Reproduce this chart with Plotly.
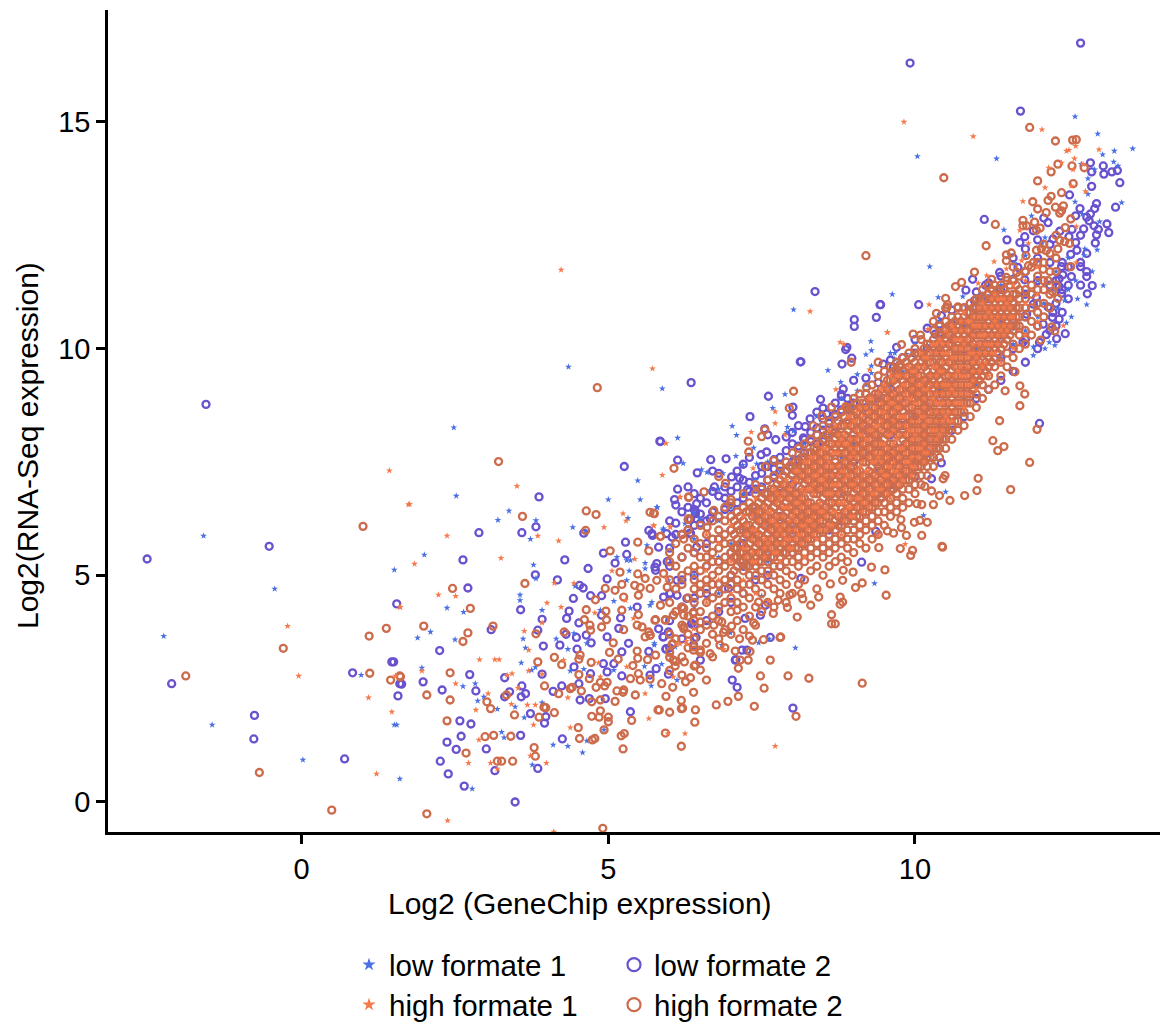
import plotly.graph_objects as go

low2_pts = [(-2.52,5.36),(-0.53,5.64),(1.55,4.37),(1.47,3.09),(1.50,3.09),(0.83,2.85),(-2.12,2.61),(1.60,2.61),(1.57,2.34),(-0.77,1.91),(-0.78,1.39),(0.70,0.95),(9.92,16.30),(12.70,16.74),(-1.56,8.77),
(3.87,6.73),(2.89,5.94),(3.59,5.94),(3.82,6.07),(2.63,5.34),(4.29,5.34),(4.67,5.15),(3.81,5.01),(4.17,4.90),(2.71,4.72),(4.98,4.92),(4.53,4.78),(4.59,4.72),(4.43,4.49),(4.89,4.55),(4.71,4.55),(3.57,4.24),(4.36,4.21),(4.32,4.05),(3.92,4.03),(4.52,3.95),(3.09,3.80),(3.85,3.79),(2.25,3.34),(3.94,3.44),(4.21,3.46),(4.31,3.70),(4.48,3.63),(4.49,3.37),(4.64,3.68),(4.72,3.51),(4.71,2.83),(4.98,2.87),(2.74,2.81),(3.92,2.82),(3.31,2.74),(1.98,2.65),(1.63,2.60),(4.52,2.61),(4.24,2.56),(3.59,2.56),(2.29,2.47),(2.84,2.45),(3.65,2.39),(3.31,2.32),(3.58,2.32),(3.39,2.43),(4.10,2.44),(4.54,2.25),(4.69,2.28),(4.95,2.28),(5.36,1.99),(3.73,1.95),(3.98,1.88),(3.96,1.74),(2.58,1.79),(2.76,1.72),(2.60,1.45),(3.57,1.47),(2.37,1.32),(2.52,1.16),(3.01,1.17),(4.25,1.39),(2.26,0.90),(2.39,0.62),(3.15,0.69),(3.85,0.74),(2.65,0.35),(3.48,0.0),
(6.13,6.90),(6.08,6.67),(5.28,5.73),(4.92,5.49),(5.30,5.46),(5.11,5.27),(5.66,5.99),(5.72,5.88),(4.60,5.93),(5.82,5.62),(5.77,5.11),(5.96,5.30),(6.12,4.89),(5.47,4.30),(4.89,4.12),(5.20,4.06),(4.98,3.64),(5.17,3.83),(5.33,3.50),(5.22,3.31),(5.66,3.32),(5.90,3.64),(5.98,3.75),(5.94,3.37),(5.78,2.94),(5.68,2.80),(5.98,2.82),(5.22,2.78),(6.36,3.94),(6.39,3.46),(6.42,6.41),(6.34,6.23),(6.34,5.92),(6.44,5.62),(6.12,4.56),(6.28,4.49),(5.79,5.26),(5.09,3.05),(4.92,3.05),(4.44,2.98),
(6.35,9.25),(5.85,7.95),(5.26,7.40),(8.37,11.26),(8.14,9.71),(8.01,2.07),(7.02,2.69),(7.10,2.53),(7.26,3.35),(6.50,3.13),(7.64,3.63),(7.07,3.13),(12.03,8.35),
(9.43,10.97),(10.06,10.97),(9.37,10.69),(9.01,10.64),(9.01,10.49),(8.89,10.03),(8.87,9.98),(8.13,9.71),(8.81,9.66),(8.97,9.79),(7.61,8.95),(8.83,9.11),(8.80,8.99),(8.46,8.88),(8.50,8.69),(8.01,8.71),(8.0,8.53),(7.31,8.50),(8.21,8.28),(8.29,8.45),(8.56,8.56),(5.84,7.96),(7.55,8.23),(7.73,7.99),(8.18,8.03),(6.13,7.54),(6.67,7.55),(6.92,7.57),(6.45,7.26),(7.49,7.66),(7.58,7.72),(7.01,7.17),(7.14,7.14),(6.73,6.95),(7.27,6.89),(6.44,6.58),(6.33,5.93),(6.04,5.84),(6.66,6.25),(9.36,5.97),(9.13,5.29),(8.14,4.93),(10.43,7.48),(10.27,7.13),(10.0,7.17),(9.54,9.15),(10.33,10.32),(10.43,10.73),(10.4,10.54),(9.7,10.03),(9.48,9.66),(9.65,9.59),(6.96,4.71),(7.56,4.34),(7.48,4.12),(7.23,4.05),(7.18,3.35),(7.08,3.14),(6.43,3.63),(5.94,3.38),(5.89,3.64),(5.82,3.82),(6.36,3.93),(5.9,4.52),(6.01,4.6),(5.76,5.18),(5.95,5.92),(5.71,5.92),(6.42,6.36),
(12.86,14.1),(13.07,14.03),(13.08,13.85),(12.88,13.9),(13.21,13.9),(13.3,13.93),(13.34,13.66),(12.88,13.58),(12.52,13.39),(12.96,13.2),(12.93,13.09),(13.27,13.12),(12.69,13.09),(12.86,12.97),(12.62,12.93),(12.84,12.82),(13.13,12.75),(12.92,12.71),(12.99,12.63),(12.75,12.64),(12.56,12.63),(13.16,12.56),(12.96,12.51),(12.94,12.33),(12.1,12.88),(12.17,12.78),(11.13,12.85),(11.72,15.24),(11.93,12.6),(11.5,12.4),(11.71,12.34),(11.79,12.47),(12.36,12.59),(12.25,12.42),(12.51,12.47),(12.62,12.34),(12.64,12.17),(12.54,12.08),(12.39,11.81),(12.7,11.81),(12.55,11.59),(12.8,11.59),(12.41,11.63),(12.35,11.54),(12.89,11.39),(12.81,11.21),(12.35,11.37),(12.39,11.22),(12.17,10.92),(12.25,10.8),(12.24,10.69),(12.35,10.65),(12.09,10.54),(12.14,10.31),(12.31,10.22),(12.45,10.33),(12.03,10.14),(9.44,10.97),(10.97,11.06),(10.83,11.29),(10.94,11.53),(11.15,11.4),(11.38,11.68),(11.79,11.52),(11.68,11.79),(11.82,10.76),(11.76,10.14),(11.93,10.98),(11.98,11.13)]

low2_cols = {
6.0:[3.4,4.0,4.6,5.2,5.6,6.2],6.2:[3.6,4.3,4.9,5.4,5.9,6.4],6.4:[3.9,4.5,5.0,5.5,6.1,6.45,6.8],6.6:[4.0,4.6,5.2,5.7,6.2,6.6],
6.8:[4.2,4.8,5.3,5.8,6.3,6.75,7.25],7.0:[4.4,5.0,5.5,6.0,6.5,6.85],7.2:[4.6,5.2,5.7,6.2,6.7,7.1,7.45],7.4:[4.9,5.4,5.9,6.4,6.9,7.2],
7.6:[5.0,5.6,6.1,6.6,7.1,7.4,8.1],7.8:[5.2,5.8,6.3,6.8,7.3,7.6],8.0:[5.5,6.0,6.5,7.0,7.5,7.9,8.15],8.2:[5.7,6.2,6.7,7.2,7.7,8.0],
8.4:[5.9,6.4,6.9,7.4,7.9,8.25,8.6],8.6:[6.0,6.6,7.1,7.6,8.1,8.35],8.8:[6.2,6.8,7.3,7.8,8.3,8.65,8.95],9.0:[6.4,7.0,7.5,8.0,8.5,8.8,9.3],
9.2:[6.6,7.2,7.7,8.2,8.7,9.0,9.35],9.4:[6.8,7.4,7.9,8.4,8.9,9.25],9.6:[7.0,7.6,8.1,8.6,9.1,9.45,9.75],9.8:[7.2,7.8,8.3,8.8,9.3,9.8],
10.0:[7.5,8.0,8.5,9.0,9.5,9.9,10.2],10.2:[7.7,8.2,8.7,9.2,9.7,10.0,10.45],10.4:[8.0,8.5,9.0,9.5,10.0,10.35],10.6:[8.2,8.7,9.2,9.7,10.2,10.55,10.85],
10.8:[8.5,9.0,9.5,10.0,10.5,10.9],11.0:[8.9,9.4,9.9,10.4,10.9,11.25],11.2:[9.1,9.6,10.1,10.6,11.1,11.45],11.4:[9.3,9.8,10.3,10.8,11.3,11.6],
11.6:[9.5,10.0,10.5,11.0,11.5,12.0],11.8:[9.7,10.2,10.7,11.2,11.7,12.2],12.0:[10.0,10.5,11.0,11.5,12.0,12.4],12.2:[10.4,10.9,11.4,11.9,12.3],
6.1:[5.9,6.15,6.55],6.3:[6.0,6.5,6.95],6.5:[6.15,6.7,6.35],6.7:[6.4,6.85,7.3],6.9:[6.45,6.95,6.7],7.1:[6.6,7.3,6.95],7.3:[6.85,7.05,7.6],7.5:[6.95,7.4,7.25],7.7:[7.15,7.55,7.35],7.9:[7.3,7.75,8.05],8.1:[7.55,8.3,7.85],8.3:[7.7,8.15,7.95],8.5:[7.95,8.45,8.2],8.7:[8.15,8.55,8.8],8.9:[8.35,8.9,8.65],
12.3:[10.5,11.0,11.5],12.4:[10.8,11.3,11.9],12.5:[11.1,11.4,11.8],12.7:[11.4,11.9,12.5],12.8:[11.7,12.1,12.9]}

low1_pts = [(-1.60,5.87),(1.51,5.12),(-0.44,4.70),(-2.25,3.66),(0.97,2.80),(-1.46,1.70),(1.51,1.70),(1.55,1.70),(0.02,0.93),(1.60,0.51),(4.35,9.60),(2.48,8.26),(5.88,9.12),
(2.52,6.75),(3.38,6.42),(3.20,6.22),(3.82,6.21),(3.73,5.80),(4.42,6.06),(5.0,6.67),(5.52,6.67),(5.48,7.09),(5.79,6.50),(5.32,6.26),(4.63,5.97),(2.0,5.45),(3.78,5.23),(5.30,5.33),(5.36,5.33),(5.60,5.27),(5.60,5.15),(5.34,5.10),(3.82,4.93),(4.46,4.76),(3.56,4.57),(3.56,4.45),(2.37,4.28),(2.64,4.19),(3.92,4.23),(5.09,4.43),(5.36,4.27),(5.68,4.34),(2.10,3.75),(1.89,3.62),(2.50,3.58),(3.61,3.60),(3.65,3.40),(4.15,3.60),(4.34,3.37),(3.58,3.07),(3.75,2.91),(3.81,2.97),(1.96,2.96),(4.38,2.89),(4.60,2.93),(5.09,2.91),(5.59,2.99),(5.87,3.04),(2.63,2.55),(2.83,2.61),(2.87,2.23),(2.97,2.32),(3.19,2.05),(3.48,2.10),(3.63,1.86),(3.92,2.19),(3.26,1.54),(3.30,1.42),(4.10,1.26),(4.34,1.23),(4.65,1.35),(4.93,1.59),(4.58,1.09),(3.76,0.82),(2.78,0.29),(5.70,2.56),(6.12,2.69),(5.75,3.5),(5.3,4.89),(4.87,4.23),(4.44,3.72),(4.65,3.5),(5.14,5.40),(5.63,5.66),(5.90,6.03),
(8.02,10.86),(9.28,10.16),(9.29,9.96),(9.2,9.87),(8.58,9.52),(9.06,9.43),(9.29,9.46),(9.29,9.62),(8.79,9.26),(9.06,9.07),(7.88,8.99),(7.68,8.69),(7.02,8.29),(7.09,8.09),(7.92,8.27),(8.02,8.18),(7.91,8.16),(6.13,8.03),(7.37,7.81),(7.08,7.63),(7.19,7.43),(7.42,7.46),(6.22,7.47),(6.52,7.33),(6.61,7.27),(6.87,7.25),(6.65,6.87),(5.8,6.5),(6.49,6.25),(6.39,6.39),(5.89,6.0),(6.04,5.66),(10.14,6.32),(9.86,7.24),(10.5,6.84),(9.34,4.82),(8.05,3.40),(7.62,3.6),(7.45,3.51),(6.99,3.73),(6.85,3.46),(7.5,4.54),(5.75,3.46),(6.09,3.42),(5.71,4.41),(5.98,4.89),(6.25,6.14),
(12.61,15.12),(12.98,14.74),(13.55,14.41),(13.25,14.36),(13.06,14.28),(10.04,14.24),(11.33,14.19),(13.24,14.12),(13.31,14.03),(12.71,14.07),(12.93,13.95),(12.82,13.41),(12.82,13.75),(12.61,13.24),(13.37,13.22),(11.9,12.93),(12.73,12.97),(11.45,12.62),(13.01,12.8),(12.12,12.45),(12.07,12.32),(12.77,12.2),(12.97,12.18),(12.76,12.06),(11.8,12.05),(10.24,11.81),(11.62,11.88),(12.89,11.7),(12.62,11.5),(13.07,11.39),(9.63,11.2),(10.38,11.13),(10.78,11.15),(11.1,11.2),(12.44,11.06),(12.8,10.97),(11.06,11.12),(10.84,10.91),(12.33,10.89),(12.55,10.7),(12.47,10.57),(12.12,10.0),(12.28,10.07),(12.19,10.14),(11.93,10.04),(11.93,9.85),(9.67,9.9),(9.67,9.77),(9.86,9.88),(12.5,12.0),(12.3,11.7),(12.5,11.3),(12.65,11.1),(12.1,11.0),(12.25,11.3)]

low1_cols = {
6.4:[4.3,5.0,5.8],6.8:[4.6,5.4,6.2,6.9],7.0:[4.9,5.7,6.5],7.2:[5.2,6.0,6.8],7.4:[5.5,6.3,7.1],7.6:[5.3,6.1,6.9,7.5],7.8:[5.7,6.5,7.3],8.0:[6.0,6.8,7.6],8.2:[6.3,7.1,7.9],
8.4:[6.1,6.9,7.7,8.5],8.6:[6.5,7.3,8.1],8.8:[6.8,7.6,8.4,8.9],9.0:[7.1,7.9,8.7],9.2:[6.9,7.7,8.5,9.2],9.4:[7.3,8.1,8.9],9.6:[7.6,8.4,9.2,9.9],9.8:[7.9,8.7,9.5],
10.0:[7.7,8.5,9.3,10.1],10.2:[8.0,8.8,9.6],10.4:[8.3,9.1,9.9,10.6],10.6:[8.6,9.4,10.2],10.8:[8.9,9.7,10.5],11.0:[9.2,10.0,10.8],11.2:[9.5,10.3,11.1],11.4:[9.8,10.6,11.4],11.6:[10.1,10.9,11.6],11.8:[10.4,11.2],12.0:[10.7,11.5]}

high2_pts = [(1.0,6.08),(1.38,3.83),(1.10,3.66),(-0.30,3.39),(-1.89,2.78),(1.11,2.84),(1.60,2.78),(1.45,2.69),(-0.69,0.65),(0.49,-0.18),(4.82,9.14),(3.21,7.51),(10.47,13.77),(9.20,12.05),(9.14,2.62),
(3.60,6.30),(4.64,6.42),(4.80,6.34),(5.68,6.39),(5.75,6.36),(4.63,5.99),(6.30,6.23),(6.31,6.73),(5.48,5.73),(5.03,5.54),(5.66,5.54),(5.85,5.86),(5.19,5.07),(5.48,5.03),(5.60,4.93),(3.64,4.82),(2.46,4.71),(4.95,4.71),(5.11,4.67),(5.22,4.80),(5.43,4.78),(5.52,4.73),(5.68,4.71),(5.79,4.89),(5.90,5.04),(4.79,4.46),(5.49,4.56),(5.96,4.74),(2.75,4.27),(4.64,4.24),(4.96,4.21),(5.22,4.23),(5.25,4.52),(5.85,4.34),(6.23,4.27),(6.39,4.16),(4.61,4.02),(4.97,4.02),(5.49,4.13),(5.77,4.02),(5.93,4.02),(6.06,4.12),(1.99,3.88),(3.12,3.88),(4.70,3.90),(4.89,3.86),(5.47,3.90),(5.25,3.80),(5.55,3.86),(5.66,3.75),(5.60,3.64),(5.68,3.68),(6.23,3.86),(2.71,3.73),(3.82,3.71),(4.28,3.75),(4.71,3.79),(2.63,3.54),(5.08,3.51),(6.05,3.49),(6.39,3.35),(5.02,3.30),(5.47,3.33),(4.12,3.19),(4.54,3.24),(4.52,3.15),(5.16,3.15),(5.64,3.14),(5.77,3.24),(6.0,3.19),(3.85,3.09),(4.24,3.03),(4.72,3.08),(5.48,3.17),(5.40,3.01),(6.06,3.13),(6.09,3.0),(6.24,3.09),(6.42,3.02),(2.42,2.85),(4.52,2.81),(4.69,2.72),(5.36,2.72),(5.49,2.83),(5.52,2.69),(5.68,2.71),(6.26,2.65),(6.34,2.74),(3.96,2.56),(4.38,2.50),(4.41,2.53),(4.87,2.64),(4.98,2.64),(4.80,2.53),(4.94,2.56),(5.87,2.61),(6.05,2.53),(6.39,2.42),(1.61,2.76),(2.04,2.36),(2.42,2.25),(3.34,2.36),(4.19,2.39),(4.56,2.45),(5.14,2.45),(5.25,2.47),(5.24,2.42),(5.44,2.36),(3.02,2.21),(3.08,2.06),(4.73,2.21),(4.87,2.25),(5.11,2.22),(6.19,2.24),(6.19,2.06),(3.95,2.09),(3.98,2.08),(3.47,1.92),(3.87,1.87),(4.12,1.97),(4.87,2.01),(4.73,1.89),(4.85,1.87),(5.0,1.87),(5.0,1.77),(5.38,1.80),(5.83,2.03),(6.0,1.98),(6.41,1.76),(2.37,1.79),(4.51,1.64),(4.93,1.59),(2.99,1.44),(3.13,1.47),(3.41,1.45),(5.26,1.51),(5.21,1.46),(4.53,1.40),(4.78,1.40),(4.74,1.37),(3.79,1.20),(6.19,1.23),(5.24,1.17),(2.68,1.08),(3.81,1.01),(3.19,0.90),(3.26,0.90),(3.44,0.90),(2.04,-0.26),(4.91,-0.58),
(8.06,1.89),(7.48,2.78),(7.93,2.78),(8.27,2.73),(7.15,3.13),(6.95,2.22),(6.76,2.14),(6.5,2.91),(6.21,2.07),(5.94,2.33),(5.81,2.03),(6.42,2.03),(7.12,2.33),(7.38,2.11),(7.54,2.51),(7.12,2.95),(7.28,3.13),(7.64,3.13),(7.8,3.63),(7.35,3.57),(6.5,3.35),(6.82,3.46),(6.6,2.69),(5.93,1.52),
(10.52,10.91),(10.35,10.78),(10.30,10.6),(9.97,10.32),(10.09,10.3),(9.78,10.09),(9.40,9.7),(8.96,9.7),(9.76,9.66),(9.70,9.48),(8.02,9.06),(9.21,9.15),(7.95,8.69),(8.64,8.71),(8.48,8.52),(8.87,8.72),(7.55,8.21),(8.34,8.30),(7.50,8.06),(7.28,7.96),(7.29,7.72),(6.07,7.36),(7.56,7.40),(7.70,7.53),(6.80,7.18),(6.91,7.03),(6.56,6.84),(6.31,6.72),(5.74,6.37),(6.31,6.25),(6.72,6.43),(7.0,6.67),(6.61,6.06),(5.85,5.86),(6.23,5.80),(10.45,5.62),(9.93,5.44),(9.96,5.55),(10.11,5.88),(9.99,6.17),(10.2,6.17),(9.77,6.23),(9.78,6.05),(9.65,5.93),(9.55,5.98),(9.86,5.88),(10.3,6.56),(10.03,6.58),(10.11,6.56),(10.40,6.76),(10.27,6.86),(10.16,6.96),(10.46,7.13),(10.49,7.2),(9.51,5.12),(9.29,5.18),(9.41,5.61),(9.53,4.56),(9.14,4.83),(9.03,4.73),(8.82,4.89),(8.83,5.11),(8.99,5.07),(8.78,4.52),(8.82,4.41),(8.78,4.36),(8.64,4.13),(8.64,3.93),(8.70,3.93),(8.08,4.08),(8.3,4.34),(7.92,4.29),(7.69,4.16),(7.81,3.64),(7.53,3.58),(7.31,3.32),(7.07,3.33),(7.30,3.66),(7.14,3.6),(6.88,3.74),(7.37,3.95),(7.01,3.88),(6.72,3.9),(6.5,3.97),(6.23,3.82),(6.04,3.48),(6.39,3.42),(6.66,3.27),(8.62,4.81),(8.43,4.52),(8.15,4.6),(8.17,4.48),(7.96,4.57),(7.77,4.45),(7.45,4.41),(7.1,4.23),(6.85,3.97),(6.39,4.19),(6.23,4.12),(5.93,4.01),(6.06,4.12),(5.76,4.01),(5.68,3.68),
(11.87,14.88),(12.29,14.58),(12.57,14.6),(12.63,14.61),(12.33,14.07),(12.56,14.03),(12.76,13.99),(12.22,13.9),(12.0,13.7),(12.58,13.64),(12.39,13.44),(12.22,13.36),(12.17,13.27),(11.92,13.24),(12.0,13.08),(12.29,13.12),(12.42,13.15),(12.39,13.04),(12.36,12.99),(12.14,13.0),(11.76,12.83),(11.95,12.79),(12.54,12.86),(12.45,12.67),(11.31,12.74),(11.76,12.71),(11.82,12.71),(12.04,12.66),(11.98,12.61),(11.16,12.27),(12.36,12.39),(12.44,12.36),(12.52,12.32),(11.57,12.11),(11.49,12.07),(11.49,11.94),(11.98,12.17),(12.06,12.2),(12.14,12.16),(12.33,12.2),(11.81,12.05),(11.93,11.9),(11.85,11.83),(12.09,11.75),(12.54,11.81),(10.97,11.69),(10.76,11.46),(10.66,11.37),(11.25,11.53),(11.49,11.57),(11.66,11.68),(12.17,11.5),(12.24,11.26),(12.33,11.11),(10.5,11.11),(10.53,10.97),(10.5,10.89),(10.7,10.92),(12.23,10.48),(12.28,10.39),(12.05,10.19),
(11.87,7.49),(11.56,6.89),(11.45,7.84),(11.35,7.75),(11.27,7.97),(11.38,8.41),(11.71,8.74),(11.47,9.07),(11.71,9.18),(11.79,9.0),(11.63,9.49),(11.03,7.14),(11.01,6.87),(10.81,6.76),(10.57,6.65),(10.44,5.64),(10.08,6.21),(9.76,5.59),(11.99,8.22)]

high2_cols = {
6.0:[2.9,3.3,3.7,4.4,4.9,5.3,5.5],6.1:[3.1,3.6,4.2,4.7,5.2,5.7],6.2:[2.8,3.2,3.9,4.3,4.8,5.0,5.4,5.9],6.3:[3.4,3.7,4.1,4.5,5.1,5.6,6.0],
6.4:[3.0,3.6,4.0,4.4,4.7,4.9,5.2,5.5,5.8],6.5:[3.3,3.8,4.2,4.6,4.8,5.1,5.4,5.7,6.1],6.6:[3.5,3.9,4.4,4.7,4.9,5.2,5.4,5.6,5.9],6.7:[3.2,3.7,4.1,4.5,4.8,5.0,5.3,5.5,5.8,6.2],
6.8:[3.6,4.0,4.3,4.6,4.8,5.1,5.3,5.6,5.8,6.0,6.3],6.9:[3.4,3.8,4.4,4.7,4.9,5.2,5.4,5.7,5.9,6.2,6.5],7.0:[3.7,4.2,4.5,4.8,5.0,5.3,5.5,5.7,6.0,6.3,6.6],7.1:[4.0,4.4,4.7,4.9,5.2,5.4,5.6,5.8,6.1,6.4],
7.2:[3.8,4.3,4.6,4.8,5.1,5.3,5.5,5.8,6.0,6.2,6.5,6.8],7.3:[4.1,4.5,4.8,5.0,5.2,5.4,5.7,5.9,6.1,6.4,6.6],7.4:[3.9,4.3,4.7,5.0,5.2,5.4,5.6,5.8,6.1,6.3,6.5,6.8,7.0],7.5:[4.2,4.6,4.9,5.1,5.3,5.5,5.7,6.0,6.2,6.4,6.7,6.9],
7.6:[4.4,4.8,5.1,5.3,5.5,5.7,5.9,6.1,6.3,6.6,6.8,7.1],7.7:[4.3,4.7,5.0,5.2,5.4,5.6,5.8,6.0,6.2,6.5,6.7,6.9,7.2],7.8:[4.6,4.9,5.2,5.4,5.6,5.8,6.0,6.2,6.4,6.7,6.9,7.1,7.4],7.9:[4.4,4.8,5.1,5.3,5.5,5.7,5.9,6.1,6.4,6.6,6.8,7.0,7.3,7.5],
8.0:[4.6,5.0,5.3,5.5,5.7,5.9,6.1,6.3,6.5,6.7,6.9,7.2,7.4,7.7],8.1:[4.8,5.2,5.4,5.6,5.8,6.0,6.2,6.4,6.6,6.8,7.1,7.3,7.5,7.8],8.2:[4.9,5.3,5.5,5.7,5.9,6.1,6.3,6.5,6.7,7.0,7.2,7.4,7.6,7.9],8.3:[5.1,5.4,5.6,5.8,6.0,6.2,6.4,6.6,6.9,7.1,7.3,7.5,7.7,8.0],
8.4:[4.7,5.2,5.5,5.7,5.9,6.1,6.3,6.5,6.8,7.0,7.2,7.4,7.6,7.8,8.1],8.5:[5.0,5.4,5.6,5.8,6.0,6.2,6.4,6.7,6.9,7.1,7.3,7.5,7.7,8.0,8.3],8.6:[5.2,5.5,5.7,5.9,6.1,6.3,6.6,6.8,7.0,7.2,7.4,7.6,7.9,8.1,8.4],8.7:[5.3,5.6,5.8,6.0,6.2,6.5,6.7,6.9,7.1,7.3,7.5,7.8,8.0,8.2,8.5],
8.8:[5.4,5.7,5.9,6.1,6.3,6.5,6.8,7.0,7.2,7.4,7.6,7.8,8.0,8.3,8.6],8.9:[5.3,5.6,5.8,6.0,6.2,6.4,6.7,6.9,7.1,7.3,7.5,7.7,7.9,8.2,8.4,8.7],9.0:[5.5,5.8,6.0,6.2,6.4,6.6,6.8,7.0,7.2,7.4,7.7,7.9,8.1,8.3,8.5,8.9],9.1:[5.7,5.9,6.1,6.3,6.5,6.7,6.9,7.1,7.3,7.6,7.8,8.0,8.2,8.4,8.7,9.0],
9.2:[5.6,6.0,6.2,6.4,6.6,6.8,7.0,7.2,7.5,7.7,7.9,8.1,8.3,8.6,8.8,9.0],9.3:[5.8,6.1,6.3,6.5,6.7,6.9,7.1,7.4,7.6,7.8,8.0,8.2,8.5,8.7,8.9,9.2],9.4:[5.9,6.2,6.4,6.6,6.8,7.0,7.3,7.5,7.7,7.9,8.1,8.4,8.6,8.8,9.0,9.4],9.5:[6.1,6.4,6.6,6.8,7.0,7.2,7.4,7.6,7.8,8.0,8.3,8.5,8.7,8.9,9.2,9.5],
9.6:[6.3,6.5,6.7,6.9,7.1,7.3,7.5,7.7,7.9,8.2,8.4,8.6,8.8,9.0,9.3,9.6],9.7:[6.4,6.6,6.8,7.0,7.2,7.4,7.6,7.8,8.1,8.3,8.5,8.7,8.9,9.2,9.4,9.7],9.8:[6.5,6.7,6.9,7.1,7.3,7.5,7.7,8.0,8.2,8.4,8.6,8.8,9.1,9.3,9.5,9.8],9.9:[6.6,6.9,7.1,7.3,7.5,7.7,7.9,8.1,8.3,8.5,8.7,9.0,9.2,9.4,9.6,9.9],
10.0:[6.8,7.0,7.2,7.4,7.6,7.8,8.0,8.2,8.4,8.6,8.9,9.1,9.3,9.5,9.7,10.0],10.1:[7.0,7.2,7.4,7.6,7.8,8.0,8.2,8.4,8.6,8.8,9.0,9.2,9.4,9.7,9.9,10.2],10.2:[7.2,7.4,7.6,7.8,8.0,8.2,8.4,8.6,8.8,9.0,9.3,9.5,9.7,9.9,10.1],10.3:[7.4,7.6,7.8,8.0,8.2,8.4,8.6,8.8,9.1,9.3,9.5,9.7,9.9,10.2,10.4],
10.4:[7.6,7.8,8.0,8.2,8.4,8.6,8.9,9.1,9.3,9.5,9.7,9.9,10.1,10.3,10.5],10.5:[7.8,8.0,8.2,8.4,8.6,8.8,9.0,9.2,9.4,9.6,9.8,10.0,10.2,10.4,10.6],10.6:[8.0,8.3,8.5,8.7,8.9,9.1,9.3,9.5,9.7,9.9,10.1,10.3,10.5,10.7],10.7:[8.2,8.4,8.6,8.8,9.0,9.2,9.4,9.6,9.8,10.0,10.3,10.5,10.7,10.9],
10.8:[8.3,8.6,8.8,9.0,9.2,9.4,9.6,9.8,10.1,10.3,10.5,10.7,10.9],10.9:[8.5,8.8,9.0,9.2,9.4,9.6,9.8,10.0,10.2,10.4,10.6,10.8,11.0],11.0:[8.7,9.0,9.2,9.4,9.6,9.8,10.0,10.3,10.5,10.7,10.9,11.1],11.1:[8.9,9.2,9.4,9.6,9.9,10.1,10.3,10.5,10.7,10.9,11.1,11.3],
11.2:[9.1,9.4,9.6,9.8,10.0,10.2,10.4,10.6,10.8,11.0,11.2,11.4],11.3:[9.2,9.6,9.8,10.0,10.2,10.4,10.6,10.8,11.0,11.2,11.4],11.4:[9.4,9.7,10.0,10.2,10.4,10.6,10.8,11.0,11.2,11.4],11.5:[9.6,9.9,10.2,10.4,10.6,10.8,11.0,11.2,11.5],
11.6:[9.8,10.1,10.4,10.6,10.8,11.0,11.2,11.5,11.8],11.7:[10.0,10.3,10.5,10.7,10.9,11.1,11.3,11.6],11.8:[10.1,10.4,10.7,10.9,11.1,11.3,11.7],11.9:[10.3,10.6,10.9,11.2,11.4,11.8],
12.0:[10.5,10.8,11.0,11.3,11.6,11.9],12.1:[10.7,11.0,11.3,11.5,11.9,12.3],12.2:[10.9,11.2,11.7,12.1],12.3:[11.4,11.7,12.0,12.5]}

high2_fill = {
7.05:[5.1,5.4,5.6,5.9,6.2],7.15:[5.3,5.5,5.7,6.0,6.3],7.25:[5.2,5.4,5.6,5.9,6.1,6.4],7.35:[5.3,5.5,5.8,6.0,6.3,6.5],7.45:[5.3,5.5,5.7,5.9,6.2,6.4,6.6],7.55:[5.4,5.6,5.8,6.1,6.3,6.5,6.8],7.65:[5.4,5.6,5.8,6.0,6.2,6.4,6.7,6.9],7.75:[5.5,5.7,5.9,6.1,6.3,6.6,6.8,7.0],
7.85:[5.5,5.7,5.9,6.1,6.3,6.5,6.8,7.0,7.2],7.95:[5.6,5.8,6.0,6.2,6.5,6.7,6.9,7.1,7.4],8.05:[5.6,5.8,6.0,6.2,6.4,6.6,6.8,7.1,7.3,7.5],8.15:[5.7,5.9,6.1,6.3,6.5,6.7,6.9,7.2,7.4,7.6],8.25:[5.8,6.0,6.2,6.4,6.6,6.9,7.1,7.3,7.5,7.7],8.35:[5.9,6.1,6.3,6.5,6.8,7.0,7.2,7.4,7.6,7.8],
8.45:[6.0,6.2,6.4,6.6,6.9,7.1,7.3,7.5,7.7,7.9],8.55:[6.0,6.3,6.5,6.8,7.0,7.2,7.4,7.6,7.8,8.1],8.65:[6.1,6.4,6.6,6.8,7.0,7.2,7.4,7.7,7.9,8.2],8.75:[6.1,6.3,6.6,6.8,7.0,7.2,7.4,7.7,7.9,8.1,8.4],8.85:[6.2,6.4,6.6,6.9,7.1,7.3,7.5,7.7,7.9,8.1,8.3,8.5],8.95:[6.3,6.5,6.7,7.0,7.2,7.4,7.6,7.8,8.0,8.3,8.5,8.7],
9.05:[6.3,6.5,6.7,6.9,7.1,7.3,7.6,7.8,8.0,8.2,8.4,8.6,8.8],9.15:[6.4,6.6,6.8,7.0,7.2,7.5,7.7,7.9,8.1,8.3,8.5,8.8],9.25:[6.5,6.7,6.9,7.1,7.3,7.6,7.8,8.0,8.2,8.4,8.6,8.9],9.35:[6.6,6.8,7.0,7.2,7.5,7.7,7.9,8.1,8.3,8.5,8.7,9.0],9.45:[6.7,6.9,7.1,7.3,7.5,7.7,7.9,8.2,8.4,8.6,8.8,9.1],9.55:[6.8,7.0,7.2,7.4,7.6,7.8,8.1,8.3,8.5,8.7,8.9,9.1,9.3],
9.65:[6.9,7.1,7.3,7.5,7.7,7.9,8.2,8.4,8.6,8.8,9.0,9.3,9.5],9.75:[7.0,7.2,7.4,7.6,7.8,8.1,8.3,8.5,8.7,8.9,9.1,9.4,9.6],9.85:[7.1,7.3,7.5,7.7,7.9,8.1,8.3,8.5,8.8,9.0,9.2,9.4,9.7],9.95:[7.2,7.4,7.6,7.8,8.0,8.2,8.4,8.7,8.9,9.1,9.3,9.5,9.8],10.05:[7.4,7.6,7.8,8.0,8.2,8.4,8.6,8.8,9.0,9.2,9.4,9.6,9.9],10.15:[7.5,7.7,7.9,8.1,8.3,8.5,8.7,8.9,9.1,9.3,9.6,9.8,10.0],
10.25:[7.6,7.8,8.0,8.2,8.4,8.6,8.8,9.0,9.2,9.4,9.7,9.9,10.1],10.35:[7.8,8.0,8.2,8.4,8.6,8.8,9.0,9.2,9.4,9.6,9.9,10.1],10.45:[8.0,8.2,8.4,8.6,8.8,9.0,9.2,9.5,9.7,9.9,10.1,10.3],10.55:[8.2,8.4,8.6,8.8,9.0,9.2,9.4,9.7,9.9,10.1,10.3,10.5],10.65:[8.4,8.6,8.8,9.0,9.2,9.4,9.6,9.8,10.0,10.2,10.4,10.6],10.75:[8.6,8.8,9.0,9.2,9.4,9.6,9.8,10.0,10.2,10.4,10.6],
10.85:[8.8,9.0,9.2,9.4,9.6,9.8,10.0,10.2,10.4,10.6,10.8],10.95:[9.1,9.3,9.5,9.7,9.9,10.1,10.3,10.5,10.7,10.9],11.05:[9.3,9.5,9.7,9.9,10.1,10.3,10.5,10.7,10.9,11.1],11.15:[9.5,9.7,9.9,10.1,10.3,10.5,10.7,10.9,11.1],11.25:[9.7,9.9,10.1,10.3,10.5,10.7,10.9,11.1,11.3],11.35:[9.9,10.1,10.3,10.5,10.7,10.9,11.1,11.3],
11.45:[10.1,10.3,10.5,10.7,10.9,11.1,11.3],11.55:[10.3,10.5,10.7,10.9,11.1,11.4],11.65:[10.5,10.7,10.9,11.2,11.4]}

high1_pts = [(1.60,4.30),(-0.23,3.88),(-0.05,2.78),(1.53,2.78),(1.09,2.30),(1.47,1.99),(1.22,0.62),(1.74,6.56),(1.43,7.31),(4.23,11.74),(5.72,9.56),(4.10,-0.95),(7.72,1.23),
(3.51,6.97),(1.76,6.57),(2.37,5.87),(3.85,5.87),(4.19,5.76),(4.93,6.06),(5.24,6.36),(5.29,6.20),(3.25,5.38),(1.84,5.25),(5.43,5.36),(5.06,5.10),(2.23,4.57),(2.51,4.54),(4.12,4.83),(4.44,4.82),(4.0,4.39),(4.23,4.30),(4.78,4.17),(3.92,3.95),(3.63,3.77),(1.61,4.30),(3.70,3.35),(2.90,3.14),(3.15,3.14),(3.22,3.14),(4.27,3.13),(1.96,2.89),(3.43,2.83),(3.35,2.80),(3.70,2.89),(3.92,2.82),(4.84,3.07),(5.30,2.98),(2.51,2.61),(3.04,2.39),(3.53,2.51),(4.34,2.30),(5.60,2.39),(3.42,2.16),(3.68,2.14),(3.81,2.14),(2.84,2.03),(5.66,1.84),(3.78,1.70),(4.38,1.64),(2.89,1.37),(5.97,1.51),(6.25,1.51),(3.73,1.02),(2.72,0.86),(3.08,0.86),(3.19,0.73),(3.99,0.86),(2.38,-0.41),(4.11,-0.66),(6.17,6.73),(5.74,6.10),(6.01,6.07),(5.28,4.45),(5.41,4.05),(6.12,3.49),(6.28,3.49),(6.06,2.76),(4.87,2.76),
(8.29,10.82),(10.23,10.97),(9.55,10.36),(10.21,10.43),(8.78,10.14),(8.84,10.1),(9.26,9.54),(8.71,9.1),(7.72,8.61),(7.72,8.35),(7.33,8.16),(7.88,8.1),(5.94,7.91),(5.88,7.21),(7.36,7.36),(6.01,6.06),(5.74,6.09),(6.17,6.72),(9.84,5.69),(9.4,5.88),(7.61,4.43),(6.88,3.37),(6.17,3.49),(6.39,3.82),(6.27,3.55),(5.95,4.91),
(9.82,15.0),(10.95,14.68),(12.07,14.83),(12.47,14.36),(12.51,14.38),(12.62,14.47),(13.0,14.39),(12.6,14.19),(12.74,14.07),(12.39,14.1),(12.18,13.99),(12.58,13.95),(12.12,13.55),(12.78,13.47),(11.76,13.25),(12.55,13.59),(9.55,10.36),(11.29,11.92),(11.85,12.32),(11.71,12.61),(11.74,11.94),(11.17,11.61),(11.03,11.44),(11.49,11.76),(12.63,11.9),(12.42,10.51),(12.63,12.69),(10.6,10.5)]

high1_cols = {
6.6:[4.4,5.1,5.9],6.8:[4.2,4.9,5.7],7.0:[4.6,5.3,6.1],7.2:[4.9,5.6,6.3],7.4:[4.6,5.3,6.0,6.7],7.6:[5.0,5.7,6.4],7.8:[5.3,6.0,6.7,7.2],8.0:[5.6,6.3,7.0],8.2:[5.4,6.1,6.8,7.5],8.4:[5.8,6.5,7.2,7.9],8.6:[6.1,6.8,7.5,8.2],
8.8:[5.9,6.6,7.3,8.0],9.0:[6.3,7.0,7.7,8.4],9.2:[6.6,7.3,8.0,8.7],9.4:[6.9,7.6,8.3,9.0],9.6:[6.7,7.4,8.1,8.8,9.4],9.8:[7.1,7.8,8.5,9.2],10.0:[7.4,8.1,8.8,9.5],10.2:[7.7,8.4,9.1,9.8],10.4:[8.1,8.8,9.5,10.2],
10.6:[8.4,9.1,9.8,10.5],10.8:[8.7,9.4,10.1,10.8],11.0:[9.1,9.8,10.5],11.2:[9.4,10.1,10.8],11.4:[9.7,10.4,11.1],11.6:[10.0,10.7,11.4],11.8:[10.3,11.0,11.5],12.0:[10.6,11.2,11.8],
7.7:[5.5,6.2,6.9],7.9:[5.8,6.5,7.1],8.1:[5.9,6.6,7.3],8.3:[6.2,6.9,7.6],8.5:[6.4,7.1,7.8],8.7:[6.4,7.0,7.7,8.3],8.9:[6.5,7.2,7.9,8.5],9.1:[6.7,7.4,8.1,8.7],9.3:[6.8,7.5,8.2,8.9],9.5:[7.2,7.9,8.6,9.2],9.7:[7.3,8.0,8.7,9.4],9.9:[7.5,8.2,8.9,9.6],10.1:[7.8,8.5,9.2,9.9],10.3:[8.2,8.9,9.6,10.1],10.5:[8.5,9.2,9.9,10.4],10.7:[8.8,9.5,10.2],10.9:[9.2,9.9,10.6],11.1:[9.6,10.3,11.0],11.3:[9.9,10.6,11.2],11.5:[10.4,11.0]}

high1_fill = {
7.25:[5.4,5.6,5.9,6.1],7.35:[5.3,5.5,5.8,6.0,6.3],7.45:[5.5,5.7,5.9,6.2,6.4],7.55:[5.4,5.6,5.8,6.1,6.3,6.5],7.65:[5.6,5.8,6.0,6.2,6.4,6.7],7.75:[5.5,5.7,5.9,6.1,6.3,6.6,6.8],7.85:[5.7,5.9,6.1,6.3,6.5,6.8,7.0],7.95:[5.6,5.8,6.0,6.2,6.5,6.7,6.9],
8.05:[5.8,6.0,6.2,6.4,6.6,6.8,7.1,7.3],8.15:[5.7,5.9,6.1,6.3,6.5,6.7,6.9,7.2],8.25:[5.8,6.0,6.2,6.4,6.6,6.9,7.1,7.3,7.5],8.35:[5.9,6.1,6.3,6.5,6.8,7.0,7.2,7.4,7.6],8.45:[6.0,6.2,6.4,6.6,6.9,7.1,7.3,7.5,7.7],8.55:[6.0,6.3,6.5,6.8,7.0,7.2,7.4,7.6,7.8],8.65:[6.1,6.4,6.6,6.8,7.0,7.2,7.4,7.7,7.9],8.75:[6.3,6.6,6.8,7.0,7.2,7.4,7.7,7.9,8.1],
8.85:[6.2,6.4,6.6,6.9,7.1,7.3,7.5,7.7,7.9,8.1,8.3],8.95:[6.3,6.5,6.7,7.0,7.2,7.4,7.6,7.8,8.0,8.3,8.5],9.05:[6.5,6.7,6.9,7.1,7.3,7.6,7.8,8.0,8.2,8.4,8.6],9.15:[6.4,6.6,6.8,7.0,7.2,7.5,7.7,7.9,8.1,8.3,8.5],9.25:[6.5,6.7,6.9,7.1,7.3,7.6,7.8,8.0,8.2,8.4,8.6,8.9],9.35:[6.6,6.8,7.0,7.2,7.5,7.7,7.9,8.1,8.3,8.5,8.7],9.45:[6.9,7.1,7.3,7.5,7.7,7.9,8.2,8.4,8.6,8.8,9.1],9.55:[6.8,7.0,7.2,7.4,7.6,7.8,8.1,8.3,8.5,8.7,8.9,9.1],
9.65:[7.1,7.3,7.5,7.7,7.9,8.2,8.4,8.6,8.8,9.0,9.3],9.75:[7.0,7.2,7.4,7.6,7.8,8.1,8.3,8.5,8.7,8.9,9.1,9.4],9.85:[7.3,7.5,7.7,7.9,8.1,8.3,8.5,8.8,9.0,9.2,9.4],9.95:[7.2,7.4,7.6,7.8,8.0,8.2,8.4,8.7,8.9,9.1,9.3,9.5],10.05:[7.6,7.8,8.0,8.2,8.4,8.6,8.8,9.0,9.2,9.4,9.6],10.15:[7.5,7.7,7.9,8.1,8.3,8.5,8.7,8.9,9.1,9.3,9.6,9.8],10.25:[7.8,8.0,8.2,8.4,8.6,8.8,9.0,9.2,9.4,9.7,9.9],10.35:[8.0,8.2,8.4,8.6,8.8,9.0,9.2,9.4,9.6,9.9,10.1],
10.45:[8.2,8.4,8.6,8.8,9.0,9.2,9.5,9.7,9.9,10.1],10.55:[8.4,8.6,8.8,9.0,9.2,9.4,9.7,9.9,10.1,10.3],10.65:[8.6,8.8,9.0,9.2,9.4,9.6,9.8,10.0,10.2,10.4],10.75:[8.8,9.0,9.2,9.4,9.6,9.8,10.0,10.2,10.4,10.6],10.85:[9.0,9.2,9.4,9.6,9.8,10.0,10.2,10.4,10.6],10.95:[9.3,9.5,9.7,9.9,10.1,10.3,10.5,10.7],11.05:[9.5,9.7,9.9,10.1,10.3,10.5,10.7,10.9],11.15:[9.7,9.9,10.1,10.3,10.5,10.7,10.9],11.25:[9.9,10.1,10.3,10.5,10.7,10.9,11.1],11.35:[10.1,10.3,10.5,10.7,10.9,11.1],11.45:[10.3,10.5,10.7,10.9,11.1],11.55:[10.5,10.7,10.9,11.1]}

legend_names = ["low formate 1", "low formate 2", "high formate 1", "high formate 2"]
C_LOW1, C_LOW2, C_HIGH1, C_HIGH2 = "#4A6FE3", "#6A52CF", "#F5794A", "#CC6C4C"
FONT = "Liberation Sans"


def series(pts, *col_sets):
    xs = [p[0] for p in pts]
    ys = [p[1] for p in pts]
    for cols in col_sets:
        for x, vals in cols.items():
            xs.extend([x] * len(vals))
            ys.extend(vals)
    return xs, ys


fig = go.Figure()
layers = [
    (series(low2_pts, low2_cols), "circle-open", C_LOW2, 7),
    (series(low1_pts, low1_cols), "star", C_LOW1, 5.2),
    (series(high2_pts, high2_cols, high2_fill), "circle-open", C_HIGH2, 7),
    (series(high1_pts, high1_cols, high1_fill), "star", C_HIGH1, 5.2),
]
for (xs, ys), sym, col, size in layers:
    line = dict(width=2.3, color=col) if sym == "circle-open" else dict(width=0)
    fig.add_trace(go.Scatter(x=xs, y=ys, mode="markers", showlegend=False, cliponaxis=False,
                             marker=dict(symbol=sym, size=size, color=col, line=line)))

legend_styles = [("star", C_LOW1, "legend", 10), ("circle-open", C_LOW2, "legend", 13),
                 ("star", C_HIGH1, "legend2", 10), ("circle-open", C_HIGH2, "legend2", 13)]
for name, (sym, col, leg, size) in zip(legend_names, legend_styles):
    line = dict(width=2.2, color=col) if sym == "circle-open" else dict(width=0)
    fig.add_trace(go.Scatter(x=[None], y=[None], mode="markers", name=name, legend=leg,
                             marker=dict(symbol=sym, size=size, color=col, line=line)))

leg_common = dict(orientation="h", xref="container", yref="container", x=349 / 1160, xanchor="left",
                  yanchor="middle", entrywidth=220, entrywidthmode="pixels",
                  font=dict(family=FONT, size=29.5, color="black"), bgcolor="rgba(0,0,0,0)", traceorder="normal")

fig.update_layout(
    width=1160, height=1025, margin=dict(l=108, r=0, t=10, b=193, pad=0),
    plot_bgcolor="white", paper_bgcolor="white",
    font=dict(family=FONT, size=29, color="black"),
    legend=dict(y=1 - 965 / 1025, **leg_common),
    legend2=dict(y=1 - 1005 / 1025, **leg_common),
    xaxis=dict(range=[-3.158, 13.995], tickvals=[0, 5, 10], ticks="outside", ticklen=9, tickwidth=2.5, tickcolor="black",
               showline=True, linecolor="black", linewidth=2.5, showgrid=False, zeroline=False,
               tickfont=dict(family=FONT, size=29), anchor="y"),
    yaxis=dict(range=[-0.662, 17.47], tickvals=[0, 5, 10, 15], ticks="outside", ticklen=9, tickwidth=2.5, tickcolor="black",
               showline=True, linecolor="black", linewidth=2.5, showgrid=False, zeroline=False,
               tickfont=dict(family=FONT, size=29), anchor="x"),
    annotations=[
        dict(text="Log2 (GeneChip expression)", xref="paper", yref="paper", x=(580 - 108) / 1052, y=(832 - 903) / 822,
             showarrow=False, font=dict(family=FONT, size=30), xanchor="center", yanchor="middle"),
        dict(text="Log2(RNA-Seq expression)", xref="paper", yref="paper", x=(27 - 108) / 1052, y=(832 - 446) / 822,
             textangle=-90, showarrow=False, font=dict(family=FONT, size=30), xanchor="center", yanchor="middle"),
    ],
)

fig.write_html("out.html", default_width="1160px", default_height="1025px",
               config={"displayModeBar": False},
               post_script="document.body.style.margin='0';document.body.style.overflow='hidden';")
